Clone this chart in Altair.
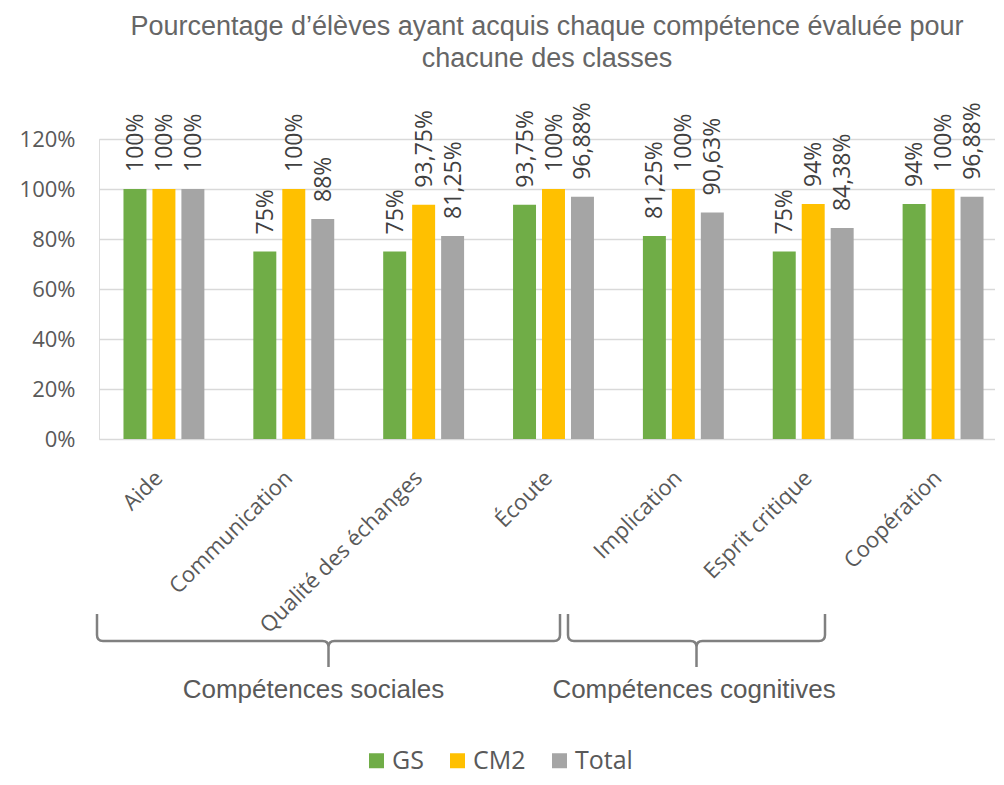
import altair as alt
import pandas as pd

categories = ["Aide", "Communication", "Qualité des échanges", "Écoute",
              "Implication", "Esprit critique", "Coopération"]
series = ["GS", "CM2", "Total"]
gs = [100, 75, 75, 93.75, 81.25, 75, 94]
cm2 = [100, 100, 93.75, 100, 100, 94, 100]
total = [100, 88, 81.25, 96.88, 90.63, 84.38, 96.88]
colors = ["#70AD47", "#FFC000", "#A5A5A5"]
y_ticks = [0, 20, 40, 60, 80, 100, 120]
groups = ["Compétences sociales", "Compétences cognitives"]
title_lines = ["Pourcentage d’élèves ayant acquis chaque compétence évaluée pour",
               "chacune des classes"]


def fmt(v):
    s = f"{v:.2f}".rstrip("0").rstrip(".")
    return s.replace(".", ",") + "%"


rows = []
for name, vals in zip(series, [gs, cm2, total]):
    for c, v in zip(categories, vals):
        rows.append({"cat": c, "serie": name, "val": v, "label": fmt(v)})
df = pd.DataFrame(rows)

GRAY_TXT = "#595959"
LABEL_FONT = "Open Sans"
HEAD_FONT = "Liberation Sans"

x_enc = alt.X(
    "cat:N", sort=categories, title=None,
    scale=alt.Scale(domain=categories, range=[0, 909],
                    paddingInner=0.377, paddingOuter=0.1885),
    axis=alt.Axis(labelAngle=-45, labelAlign="right", labelBaseline="middle",
                  labelFont=LABEL_FONT, labelFontSize=22, labelColor=GRAY_TXT,
                  labelPadding=35, labelOffset=-5, domain=False, ticks=False,
                  grid=False, labelLimit=400),
)
y_enc = alt.Y(
    "val:Q", title=None,
    scale=alt.Scale(domain=[0, 120], nice=False, zero=True),
    axis=alt.Axis(values=y_ticks, labelExpr="datum.value + '%'", grid=True,
                  gridColor="#D9D9D9", gridWidth=1.5, domain=False, ticks=False,
                  labelFont=LABEL_FONT, labelFontSize=22, labelColor=GRAY_TXT,
                  labelPadding=24),
)
xoff_enc = alt.XOffset("serie:N", sort=series,
                       scale=alt.Scale(domain=series, paddingInner=0.207,
                                       paddingOuter=0))

base = alt.Chart(df)

bars = base.mark_bar().encode(
    x=x_enc, y=y_enc, xOffset=xoff_enc,
    color=alt.Color(
        "serie:N", sort=series,
        scale=alt.Scale(domain=series, range=colors),
        legend=alt.Legend(orient="none", legendX=265, legendY=609,
                          direction="horizontal", title=None,
                          symbolType="square", symbolSize=225,
                          symbolStrokeWidth=0, labelFont=LABEL_FONT,
                          labelFontSize=25, labelColor=GRAY_TXT,
                          labelOffset=3, columnPadding=21, padding=0),
    ),
)

labels = base.mark_text(
    angle=270, align="left", baseline="middle", dx=17, dy=1,
    font=LABEL_FONT, fontSize=23, color="#404040",
).encode(x=x_enc, y=y_enc, xOffset=xoff_enc, text="label:N")


def brace_path(hw, top=26, mid=1, bottom=27, r=6):
    k = 1.0 / hw

    def p(v):
        return f"{v * k:.5f}"

    return (
        f"M -1 {p(-top)} L -1 {p(mid - r)} Q -1 {p(mid)} {p(-hw + r)} {p(mid)} "
        f"L {p(-r)} {p(mid)} Q 0 {p(mid)} 0 {p(mid + r)} L 0 {p(bottom)} "
        f"M 0 {p(mid + r)} Q 0 {p(mid)} {p(r)} {p(mid)} "
        f"L {p(hw - r)} {p(mid)} Q 1 {p(mid)} 1 {p(mid - r)} L 1 {p(-top)}"
    )


gdf = pd.DataFrame({"g": groups})
brace_specs = [(229.5, 231.5), (597.5, 128.5)]
label_pos = [214.5, 595]

layers = [bars, labels]
for i, (cx, hw) in enumerate(brace_specs):
    layers.append(
        alt.Chart(gdf).transform_filter(alt.datum.g == groups[i]).mark_point(
            shape=brace_path(hw), size=(2 * hw) ** 2, filled=False,
            stroke="#808080", strokeWidth=2.5, opacity=1,
        ).encode(x=alt.value(cx), y=alt.value(501))
    )
    layers.append(
        alt.Chart(gdf).transform_filter(alt.datum.g == groups[i]).mark_text(
            font=HEAD_FONT, fontSize=26, color=GRAY_TXT, align="center",
            baseline="middle",
        ).encode(x=alt.value(label_pos[i]), y=alt.value(551), text="g:N")
    )

chart = alt.layer(*layers).properties(
    width=896, height=300,
    title=alt.TitleParams(text=title_lines, font=HEAD_FONT, fontSize=27,
                          fontWeight="normal", color="#666666",
                          anchor="middle", frame="group", offset=29,
                          lineHeight=32),
    padding={"left": 91, "top": 131, "right": 0, "bottom": 338},
    autosize=alt.AutoSizeParams(type="none"),
).configure_view(strokeWidth=0).configure(background="white")

chart.save("out.html", embed_options={"renderer": "svg", "actions": False})
